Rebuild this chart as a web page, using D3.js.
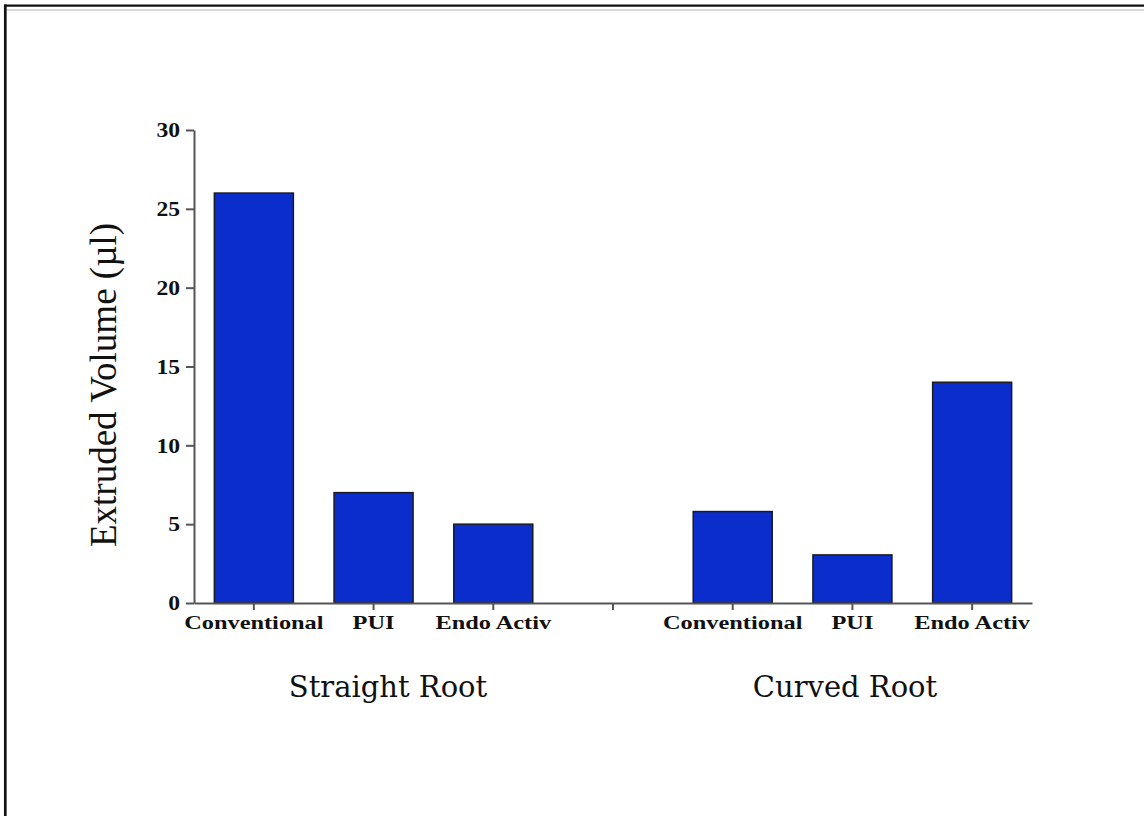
<!DOCTYPE html>
<html>
<head>
<meta charset="utf-8">
<script src="https://cdn.jsdelivr.net/npm/d3@7"></script>
<style>
  html, body { margin: 0; padding: 0; background: #fff; }
  svg { display: block; }
</style>
</head>
<body>
<svg id="chart" width="1144" height="816"></svg>
<script>
// ---- data ----
const groups = ["Straight Root", "Curved Root"];
const methods = ["Conventional", "PUI", "Endo Activ"];
const straightValues = [26, 7, 5];
const curvedValues = [5.8, 3.05, 14];
const yTicks = [0, 5, 10, 15, 20, 25, 30];
const yLabel = "Extruded Volume (\u00b5l)";

// slots: three straight, one empty separator, three curved
const slots = [
  ...methods.map((m, i) => ({ key: "S" + i, label: m, value: straightValues[i] })),
  { key: "gap", label: "", value: null },
  ...methods.map((m, i) => ({ key: "C" + i, label: m, value: curvedValues[i] }))
];

const svg = d3.select("#chart");

// frame (top + left border lines)
svg.append("line").attr("x1", 4).attr("x2", 1144).attr("y1", 5.7).attr("y2", 5.7)
  .attr("stroke", "#111").attr("stroke-width", 2.2);
svg.append("line").attr("x1", 6.5).attr("x2", 1144).attr("y1", 10).attr("y2", 10)
  .attr("stroke", "#d9d9d9").attr("stroke-width", 2.2);
svg.append("line").attr("x1", 5.3).attr("x2", 5.3).attr("y1", 4.6).attr("y2", 816)
  .attr("stroke", "#111").attr("stroke-width", 2.7);

const x = d3.scaleBand()
  .domain(slots.map(d => d.key))
  .range([194, 1032])
  .paddingInner(0.34)
  .paddingOuter(0.17);

const y = d3.scaleLinear().domain([0, 30]).range([603, 130]);

const axisColor = "#555";
const sx = 1.25;

// bars
svg.append("g").selectAll("rect")
  .data(slots.filter(d => d.value !== null))
  .join("rect")
  .attr("x", d => x(d.key))
  .attr("width", x.bandwidth())
  .attr("y", d => y(d.value))
  .attr("height", d => y(0) - y(d.value))
  .attr("fill", "#0b2dcc")
  .attr("stroke", "#1a1a22")
  .attr("stroke-width", 1.5);

// x axis
const xAxis = svg.append("g")
  .attr("transform", `translate(0,${y(0)})`)
  .call(d3.axisBottom(x).tickSize(7).tickSizeOuter(0)
    .tickFormat(k => slots.find(s => s.key === k).label));
xAxis.select(".domain").attr("stroke", axisColor).attr("stroke-width", 2);
xAxis.selectAll(".tick line").attr("stroke", axisColor).attr("stroke-width", 2);
xAxis.selectAll(".tick text")
  .attr("y", 26.3).attr("dy", 0)
  .attr("fill", "#111")
  .style("font-family", "'Liberation Serif', 'Times New Roman', serif")
  .style("font-weight", "bold")
  .style("font-size", "19.5px")
  .attr("transform", `scale(${sx},1)`);

// y axis
const ysx = 1.18;
const yAxis = svg.append("g")
  .attr("transform", `translate(${x.range()[0]},0)`)
  .call(d3.axisLeft(y).tickValues(yTicks).tickSize(8).tickSizeOuter(0).tickFormat(d3.format("d")));
yAxis.select(".domain").attr("stroke", axisColor).attr("stroke-width", 2);
yAxis.selectAll(".tick line").attr("stroke", axisColor).attr("stroke-width", 2);
yAxis.selectAll(".tick text")
  .attr("x", -14 / ysx).attr("dy", "0.34em")
  .attr("fill", "#111")
  .style("font-family", "'Liberation Serif', 'Times New Roman', serif")
  .style("font-weight", "bold")
  .style("font-size", "20px")
  .attr("transform", `scale(${ysx},1)`);

// y label
svg.append("text")
  .attr("transform", "translate(116,385) rotate(-90)")
  .attr("text-anchor", "middle")
  .style("font-family", "'Liberation Serif', 'Times New Roman', serif")
  .style("font-size", "37px")
  .attr("fill", "#111")
  .text(yLabel);

// group labels
const groupCenters = [388, 845];
svg.append("g").selectAll("text")
  .data(groups)
  .join("text")
  .attr("x", (d, i) => groupCenters[i])
  .attr("y", 697)
  .attr("text-anchor", "middle")
  .style("font-family", "'DejaVu Serif', serif")
  .style("font-size", "29px")
  .attr("fill", "#111")
  .text(d => d);
</script>
</body>
</html>
